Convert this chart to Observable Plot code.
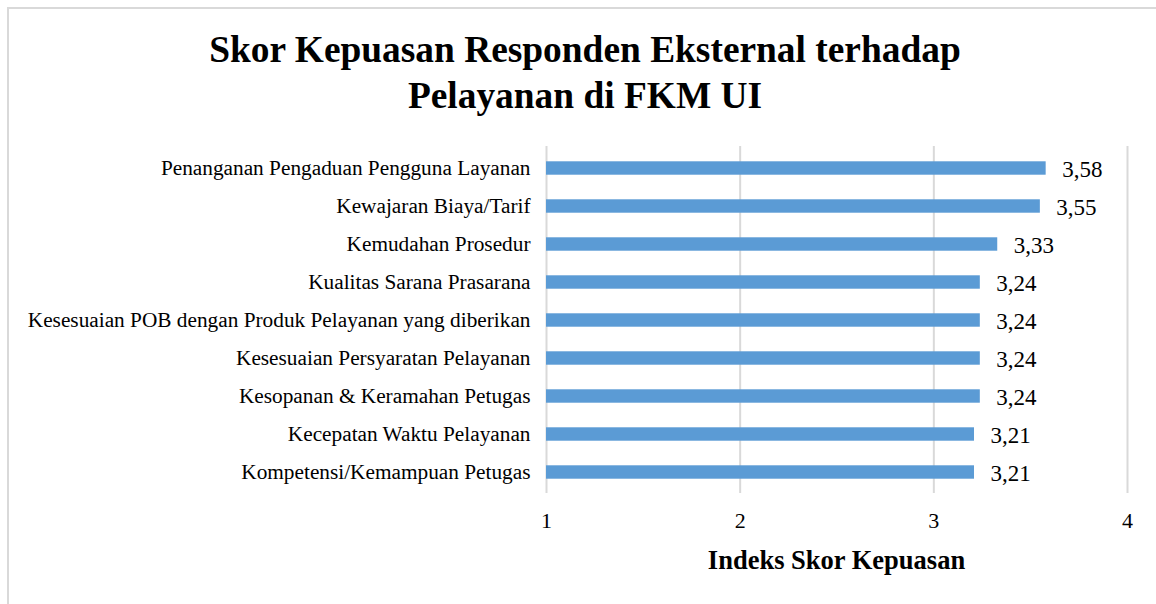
<!DOCTYPE html>
<html>
<head>
<meta charset="utf-8">
<script src="https://cdn.jsdelivr.net/npm/d3@7"></script>
<script src="https://cdn.jsdelivr.net/npm/@observablehq/plot@0.6"></script>
<style>
  html, body { margin: 0; padding: 0; background: #fff; }
  body { width: 1156px; height: 604px; position: relative; overflow: hidden; font-family: "Liberation Serif", "Times New Roman", serif; }
  #frame { position: absolute; left: 7px; top: 7px; width: 1160px; height: 610px; border-left: 2px solid #d9d9d9; border-top: 2px solid #d9d9d9; box-sizing: border-box; }
  #title { position: absolute; left: 0; top: 27px; width: 1170px; text-align: center; font-weight: bold; font-size: 37.4px; line-height: 46px; color: #000; }
  #chart { position: absolute; left: 0; top: 0; line-height: 0; }
  #xlabel { position: absolute; left: 546px; width: 581px; top: 545px; text-align: center; font-weight: bold; font-size: 26.5px; line-height: 30px; color: #000; }
  svg text { font-family: "Liberation Serif", "Times New Roman", serif; }
</style>
</head>
<body>
<div id="frame"></div>
<div id="chart"></div>
<div id="title">Skor Kepuasan Responden Eksternal terhadap<br>Pelayanan di FKM UI</div>
<div id="xlabel">Indeks Skor Kepuasan</div>
<script>
const categories = [
  "Penanganan Pengaduan Pengguna Layanan",
  "Kewajaran Biaya/Tarif",
  "Kemudahan Prosedur",
  "Kualitas Sarana Prasarana",
  "Kesesuaian POB dengan Produk Pelayanan yang diberikan",
  "Kesesuaian Persyaratan Pelayanan",
  "Kesopanan & Keramahan Petugas",
  "Kecepatan Waktu Pelayanan",
  "Kompetensi/Kemampuan Petugas"
];
const scores = [3.58, 3.55, 3.33, 3.24, 3.24, 3.24, 3.24, 3.21, 3.21];
const xTicks = [1, 2, 3, 4];
const xMin = 1;

const data = categories.map((c, i) => ({category: c, score: scores[i]}));
const fmt = v => v.toFixed(2).replace(".", ",");

const plot = Plot.plot({
  width: 1156,
  height: 604,
  marginTop: 146,
  marginBottom: 111,
  marginLeft: 546,
  marginRight: 29,
  style: {background: "transparent", fontFamily: "Liberation Serif, Times New Roman, serif", color: "#000"},
  x: {domain: [1, 4]},
  y: {domain: categories, padding: 0},
  marks: [
    Plot.ruleX(xTicks, {stroke: "#d9d9d9", strokeWidth: 2, strokeOpacity: 1}),
    Plot.barX(data, {x1: xMin, x2: "score", y: "category", fill: "#5B9BD5", insetTop: 12.3, insetBottom: 12.3}),
    Plot.text(data, {x: "score", y: "category", text: d => fmt(d.score), textAnchor: "start", dx: 16, dy: 1, fontSize: 23, fill: "#000"}),
    Plot.axisY({tickSize: 0, tickPadding: 16, fontSize: 21.3, label: null, color: "#000"}),
    Plot.axisX({ticks: xTicks, tickFormat: d => String(d), tickSize: 0, tickPadding: 19, fontSize: 22, label: null, color: "#000"})
  ]
});
document.getElementById("chart").appendChild(plot);
</script>
</body>
</html>
